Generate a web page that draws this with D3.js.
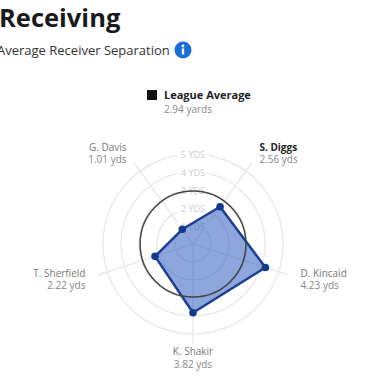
<!DOCTYPE html>
<html><head><meta charset="utf-8">
<script src="https://cdn.jsdelivr.net/npm/d3@7"></script>
<style>
html,body{margin:0;padding:0;background:#fff;}
svg{display:block;font-family:"Open Sans",sans-serif;}
</style></head>
<body><svg id="c" width="386" height="378"></svg>
<script>
const players = ["K. Shakir","D. Kincaid","S. Diggs","G. Davis","T. Sherfield"];
const values = [3.82, 4.23, 2.56, 1.01, 2.22];
const valueLabels = ["3.82 yds","4.23 yds","2.56 yds","1.01 yds","2.22 yds"];
const highlighted = ["S. Diggs"];
const ringTicks = [1,2,3,4,5];
const ringLabels = ["1 YDS","2 YDS","3 YDS","4 YDS","5 YDS"];
const leagueAverage = 2.94;
const leagueLabel = "League Average";
const leagueValueLabel = "2.94 yards";
const title = "Receiving";
const subtitle = "Average Receiver Separation";

const svg = d3.select("#c");
const cx = 193, cy = 244;
const r = d3.scaleLinear().domain([0,5]).range([0,90]);
const angle = d3.scalePoint().domain(players).range([Math.PI, Math.PI - 2*Math.PI*4/5]);
const pt = (name, v) => {
  const a = angle(name), rr = r(v);
  return [cx + rr*Math.sin(a), cy - rr*Math.cos(a)];
};

// Title
svg.append("text").attr("x",-1).attr("y",27).attr("font-size",25.5).attr("font-weight",700)
  .attr("fill","#1a1a1a").text(title);
svg.append("text").attr("x",-3).attr("y",55).attr("font-size",13).attr("fill","#333").text(subtitle);
svg.append("circle").attr("cx",183).attr("cy",50).attr("r",8.5).attr("fill","#1a6fd6");
svg.append("circle").attr("cx",183).attr("cy",46).attr("r",1.4).attr("fill","#fff");
svg.append("rect").attr("x",181.8).attr("y",48.5).attr("width",2.4).attr("height",6).attr("fill","#fff");

// Legend
svg.append("rect").attr("x",147).attr("y",90).attr("width",10).attr("height",10).attr("fill","#111");
svg.append("text").attr("x",164).attr("y",99).attr("font-size",11).attr("font-weight",700).attr("fill","#222").text(leagueLabel);
svg.append("text").attr("x",164).attr("y",113).attr("font-size",10).attr("fill","#888").text(leagueValueLabel);

// Grid rings
const g = svg.append("g");
g.selectAll("circle.ring").data(ringTicks).join("circle")
  .attr("cx",cx).attr("cy",cy).attr("r",d=>r(d))
  .attr("fill","none").attr("stroke","#e6e6e6").attr("stroke-width",1.2);
// spokes
g.selectAll("line.spoke").data(players).join("line")
  .attr("x1",cx).attr("y1",cy)
  .attr("x2",d=>pt(d,5.55)[0]).attr("y2",d=>pt(d,5.55)[1])
  .attr("stroke","#e6e6e6").attr("stroke-width",1.2);
// ring labels
const rl = g.selectAll("g.rl").data(ringTicks).join("g");
rl.append("rect").attr("x",cx-16).attr("y",d=>cy-r(d)-5).attr("width",32).attr("height",10).attr("fill","#fff");
rl.append("text").attr("x",cx).attr("y",d=>cy-r(d)+3.5).attr("text-anchor","middle")
  .attr("font-size",9).attr("fill","#cccccc").text((d,i)=>ringLabels[i]);

// polygon
const line = d3.line().curve(d3.curveLinearClosed);
const poly = players.map((p,i)=>pt(p,values[i]));
svg.append("path").attr("d",line(poly)).attr("fill","#2f5fc0").attr("fill-opacity",0.55)
  .attr("stroke","#1c3f95").attr("stroke-width",2.5).attr("stroke-linejoin","round");
svg.selectAll("circle.pt").data(poly).join("circle").attr("cx",d=>d[0]).attr("cy",d=>d[1])
  .attr("r",3.8).attr("fill","#123a8c");

// league circle
svg.append("circle").attr("cx",cx).attr("cy",cy).attr("r",r(leagueAverage))
  .attr("fill","none").attr("stroke","#444").attr("stroke-width",1.5);

// axis labels
players.forEach((p,i)=>{
  const a = angle(p);
  const [x,y] = pt(p, 6.28);
  const s = Math.sin(a);
  const anchor = Math.abs(s) < 0.2 ? "middle" : (s > 0 ? "start" : "end");
  const hl = highlighted.includes(p);
  svg.append("text").attr("text-anchor",anchor).attr("font-size",10)
    .attr("x",x).attr("y",y-2).attr("font-weight",hl?700:400)
    .attr("fill",hl?"#222":"#777").text(p);
  svg.append("text").attr("text-anchor",anchor).attr("font-size",10)
    .attr("x",x).attr("y",y+10.5).attr("fill","#888").text(valueLabels[i]);
});
</script></body></html>
